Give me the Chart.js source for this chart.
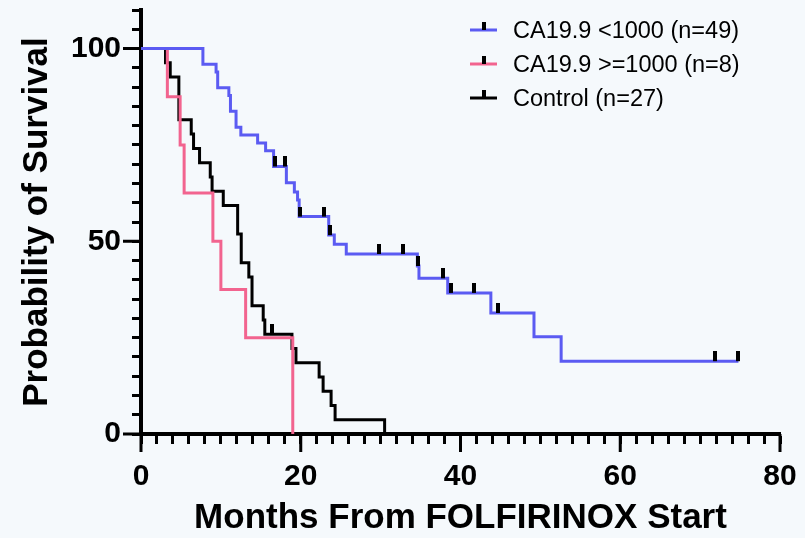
<!DOCTYPE html>
<html>
<head>
<meta charset="utf-8">
<script src="https://cdn.jsdelivr.net/npm/chart.js@4.4.1/dist/chart.umd.min.js"></script>
<style>
  html, body { margin: 0; padding: 0; background: #f5f9fc; }
</style>
</head>
<body>
<canvas id="km" width="805" height="538"></canvas>
<script>
// Kaplan-Meier steps (months, % surviving after the drop)
var lowTimes = [0, 7.75, 9.4, 9.6, 11.0, 11.2, 11.9, 12.5, 14.6, 15.6, 16.6, 18.2, 19.2, 19.6, 19.8, 23.5, 24.2, 25.7, 34.6, 34.8, 38.4, 43.8, 49.2, 52.6, 74.8];
var lowSurv  = [100, 95.9, 93.9, 89.8, 87.8, 83.7, 79.6, 77.6, 75.5, 73.5, 69.4, 65.2, 62.8, 60.7, 56.4, 51.6, 49.2, 46.7, 43.6, 40.4, 36.6, 31.4, 25.2, 18.9, 18.9];
var lowCensor = [16.8, 18.0, 19.9, 22.9, 23.6, 29.8, 32.8, 34.7, 37.8, 38.8, 41.7, 44.7, 71.8, 74.8];

var highTimes = [0, 3.3, 4.9, 5.4, 9.0, 10.0, 13.1, 19.0];
var highSurv  = [100, 87.5, 75, 62.5, 50, 37.5, 25, 0];

var ctrlTimes = [0, 3.07, 3.66, 4.74, 6.29, 6.58, 7.33, 8.67, 8.9, 10.3, 12.1, 12.55, 13.5, 13.9, 15.3, 15.5, 18.9, 19.4, 22.3, 22.8, 23.8, 24.3, 30.5];
var ctrlSurv  = [100, 96.3, 92.6, 81.5, 77.8, 74.1, 70.4, 66.7, 63.0, 59.3, 51.9, 44.4, 40.7, 33.3, 29.6, 25.9, 22.2, 18.5, 14.8, 11.1, 7.4, 3.7, 0];
var ctrlCensor = [16.4];

var groupLabels = ['CA19.9 <1000 (n=49)', 'CA19.9 >=1000 (n=8)', 'Control (n=27)'];
var groupColors = ['#5b5bf2', '#f2648f', '#000000'];

var xMajor = [0, 20, 40, 60, 80];
var yMajor = [0, 50, 100];

function toPoints(t, s) {
  var pts = [];
  for (var i = 0; i < t.length; i++) pts.push({ x: t[i], y: s[i] });
  return pts;
}

function levelAt(t, s, when) {
  var v = s[0];
  for (var i = 0; i < t.length; i++) {
    if (t[i] <= when) v = s[i];
  }
  return v;
}

function censorPoints(t, s, c) {
  var pts = [];
  for (var i = 0; i < c.length; i++) pts.push({ x: c[i], y: levelAt(t, s, c[i]) });
  return pts;
}

// small vertical bar sitting on top of the curve
function tickMark() {
  var c = document.createElement('canvas');
  c.width = 4;
  c.height = 20;
  var g = c.getContext('2d');
  g.fillStyle = '#000';
  g.fillRect(0, 0, 4, 10);
  return c;
}
var mark = tickMark();

function curve(label, data, color, order) {
  return {
    label: label,
    data: data,
    borderColor: color,
    backgroundColor: color,
    borderWidth: 3,
    stepped: 'before',
    pointRadius: 0,
    fill: false,
    order: order
  };
}

function censors(data) {
  return {
    label: '',
    data: data,
    showLine: false,
    pointStyle: mark,
    pointRadius: 5,
    order: 0
  };
}

var bgPlugin = {
  id: 'bg',
  beforeDraw: function (chart) {
    var ctx = chart.ctx;
    ctx.save();
    ctx.fillStyle = '#f5f9fc';
    ctx.fillRect(0, 0, chart.width, chart.height);
    ctx.restore();
  }
};

var majorTicks = {
  id: 'majorTicks',
  afterDraw: function (chart) {
    var ctx = chart.ctx;
    var area = chart.chartArea;
    var xs = chart.scales.x, ys = chart.scales.y;
    ctx.save();
    ctx.strokeStyle = '#000';
    ctx.lineWidth = 3;
    ctx.beginPath();
    xMajor.forEach(function (v) {
      var px = xs.getPixelForValue(v);
      ctx.moveTo(px, area.bottom);
      ctx.lineTo(px, area.bottom + 18);
    });
    yMajor.forEach(function (v) {
      var py = ys.getPixelForValue(v);
      ctx.moveTo(area.left, py);
      ctx.lineTo(area.left - 18, py);
    });
    ctx.stroke();
    ctx.restore();
  }
};

var kmLegend = {
  id: 'kmLegend',
  afterDraw: function (chart) {
    var ctx = chart.ctx;
    var x = 470, y = 30, row = 34;
    ctx.save();
    ctx.font = '23.5px "Liberation Sans", Arial, sans-serif';
    ctx.textBaseline = 'middle';
    for (var i = 0; i < groupLabels.length; i++) {
      var yy = y + i * row;
      ctx.strokeStyle = groupColors[i];
      ctx.lineWidth = 3;
      ctx.beginPath();
      ctx.moveTo(x, yy);
      ctx.lineTo(x + 27, yy);
      ctx.stroke();
      ctx.fillStyle = '#000';
      ctx.fillRect(x + 12, yy - 8, 4, 8);
      ctx.fillText(groupLabels[i], x + 43, yy + 2);
    }
    ctx.restore();
  }
};

var axisFont = { family: '"Liberation Sans", Arial, sans-serif', size: 30, weight: 'bold' };
var titleFont = { family: '"Liberation Sans", Arial, sans-serif', size: 35, weight: 'bold', lineHeight: 1.15 };

new Chart(document.getElementById('km'), {
  type: 'line',
  data: {
    datasets: [
      censors(censorPoints(lowTimes, lowSurv, lowCensor)),
      censors(censorPoints(ctrlTimes, ctrlSurv, ctrlCensor)),
      curve(groupLabels[0], toPoints(lowTimes, lowSurv), groupColors[0], 1),
      curve(groupLabels[1], toPoints(highTimes, highSurv), groupColors[1], 2),
      curve(groupLabels[2], toPoints(ctrlTimes, ctrlSurv), groupColors[2], 3)
    ]
  },
  options: {
    responsive: false,
    animation: false,
    layout: { padding: { top: 10, right: 25, left: 0, bottom: 0 } },
    plugins: {
      legend: { display: false },
      tooltip: { enabled: false }
    },
    scales: {
      x: {
        type: 'linear',
        min: 0,
        max: 80,
        afterFit: function (s) { s.height = 104; s.paddingLeft = 0; s.paddingRight = 0; },
        border: { color: '#000', width: 4 },
        grid: { drawOnChartArea: false, drawTicks: true, tickLength: 10, tickWidth: 3, tickColor: '#000' },
        ticks: {
          stepSize: 2,
          autoSkip: false,
          maxRotation: 0,
          padding: 15,
          color: '#000',
          font: axisFont,
          callback: function (v) { return v % 20 === 0 ? v : ''; }
        },
        title: { display: true, text: 'Months From FOLFIRINOX Start', color: '#000', font: titleFont, padding: { top: 0, bottom: 0 } }
      },
      y: {
        min: 0,
        max: 110,
        afterFit: function (s) { s.width = 141; s.paddingTop = 0; s.paddingBottom = 0; },
        border: { color: '#000', width: 4 },
        grid: { drawOnChartArea: false, drawTicks: true, tickLength: 9, tickWidth: 3, tickColor: '#000' },
        ticks: {
          stepSize: 5,
          autoSkip: false,
          padding: 11,
          color: '#000',
          font: axisFont,
          callback: function (v) { return v % 50 === 0 ? v : ''; }
        },
        title: { display: true, text: 'Probability of Survival', color: '#000', font: titleFont, padding: { top: 17, bottom: 0 } }
      }
    }
  },
  plugins: [bgPlugin, majorTicks, kmLegend]
});
</script>
</body>
</html>
